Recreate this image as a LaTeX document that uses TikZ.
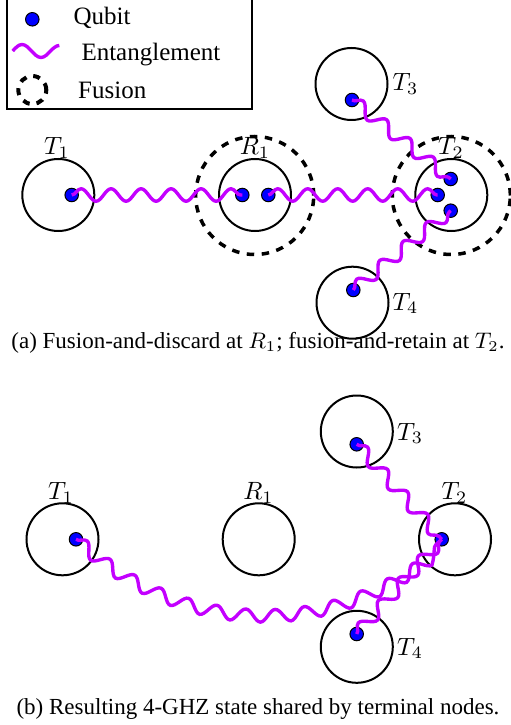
\documentclass[tikz,border=0pt]{standalone}
\usepackage{fontspec}
\setmainfont{Liberation Serif}
\usetikzlibrary{decorations.pathmorphing}
\definecolor{entcol}{RGB}{195,0,255}
\begin{document}
\begin{tikzpicture}[x=0.4pt,y=-0.4pt,
 station/.style={circle,draw,line width=0.8pt,minimum size=28.8pt,inner sep=0pt},
 fusion/.style={circle,draw,line width=1.4pt,dash pattern=on 3pt off 3pt,minimum size=47.2pt,inner sep=0pt},
 qubit/.style={circle,draw=black,line width=0.4pt,fill=blue,minimum size=5.4pt,inner sep=0pt},
 ent/.style={draw=entcol,line width=1.35pt,decorate,decoration={snake,segment length=12pt,amplitude=2.5pt}},
 lab/.style={anchor=base,inner sep=0pt,font=\fontsize{10}{12}\selectfont},
 labr/.style={anchor=base west,inner sep=0pt,font=\fontsize{10}{12}\selectfont},
 txt/.style={anchor=base west,inner sep=0pt,font=\fontsize{10}{12}\selectfont},
 captext/.style={anchor=base,inner sep=0pt,font=\fontsize{9.2}{11}\selectfont}]
\useasboundingbox (0,0) rectangle (511,725);
\fill[white] (0,0) rectangle (511,725);
% legend
\draw[line width=0.6pt] (7,-5) rectangle (252,109);
\node[qubit] (lq) at (32.3,19.3) {};
\node[txt] (lqt) at (73,25) {Qubit};
\draw[draw=entcol,line width=1.35pt] (12.7,51) sin (22,44.5) cos (31.5,51) sin (41,57.5) cos (50.5,51) sin (59.3,45.5);
\node[txt] (let) at (81,61) {Entanglement};
\node[fusion,minimum size=11.2pt,line width=1.6pt,dash pattern=on 2.8pt off 2.8pt] (lf) at (32.3,90) {};
\node[txt] (lft) at (77.7,99) {Fusion};
% panel (a)
\node[station] (a1) at (58.3,195) {};
\node[station] (ar) at (255,195) {};
\node[station] (a2) at (451.3,195) {};
\node[station] (a3) at (351.5,84) {};
\node[station] (a4) at (352.5,302.7) {};
\node[fusion] (fr) at (254.7,195.5) {};
\node[fusion] (f2) at (451.3,195.5) {};
\node[lab] (la1) at (57,155) {$T_1$};
\node[lab] (lar) at (255,155) {$R_1$};
\node[lab] (la2) at (451,155) {$T_2$};
\node[labr] (la3) at (392,91) {$T_3$};
\node[labr] (la4) at (392,310) {$T_4$};
\node[qubit] (q1) at (71.7,195) {};
\node[qubit] (qr1) at (242.3,195) {};
\node[qubit] (qr2) at (268.3,195) {};
\node[qubit] (q2a) at (450.7,179) {};
\node[qubit] (q2b) at (437.7,195) {};
\node[qubit] (q2c) at (450.7,210.7) {};
\node[qubit] (q3) at (352,100) {};
\node[qubit] (q4) at (353.3,290) {};
\draw[ent] (q1.center) -- (qr1.center);
\draw[ent] (qr2.center) -- (q2b.center);
\draw[ent] (q3.center) -- (q2a.center);
\draw[ent] (q4.center) -- (q2c.center);
\node[captext] (capa) at (258,348.5) {(a) Fusion-and-discard at $R_1$; fusion-and-retain at $T_2$.};
% panel (b)
\node[station] (b1) at (62.5,539.3) {};
\node[station] (br) at (258.7,539.3) {};
\node[station] (b2) at (455,539.3) {};
\node[station] (b3) at (356.8,431.5) {};
\node[station] (b4) at (356.8,646.8) {};
\node[lab] (lb1) at (61,499.3) {$T_1$};
\node[lab] (lbr) at (258.5,499.3) {$R_1$};
\node[lab] (lb2) at (454.5,499.3) {$T_2$};
\node[labr] (lb3) at (396.7,440) {$T_3$};
\node[labr] (lb4) at (396.7,655) {$T_4$};
\node[qubit] (p1) at (76,539.3) {};
\node[qubit] (p2) at (441.7,539.3) {};
\node[qubit] (p3) at (356.7,444.3) {};
\node[qubit] (p4) at (356.7,634) {};
\draw[ent] (p1.center) to[bend right=42] (p2.center);
\draw[ent] (p3.center) -- (p2.center);
\draw[ent] (p4.center) -- (p2.center);
\node[captext] (capb) at (258,714) {(b) Resulting 4-GHZ state shared by terminal nodes.};
\end{tikzpicture}
\end{document}
